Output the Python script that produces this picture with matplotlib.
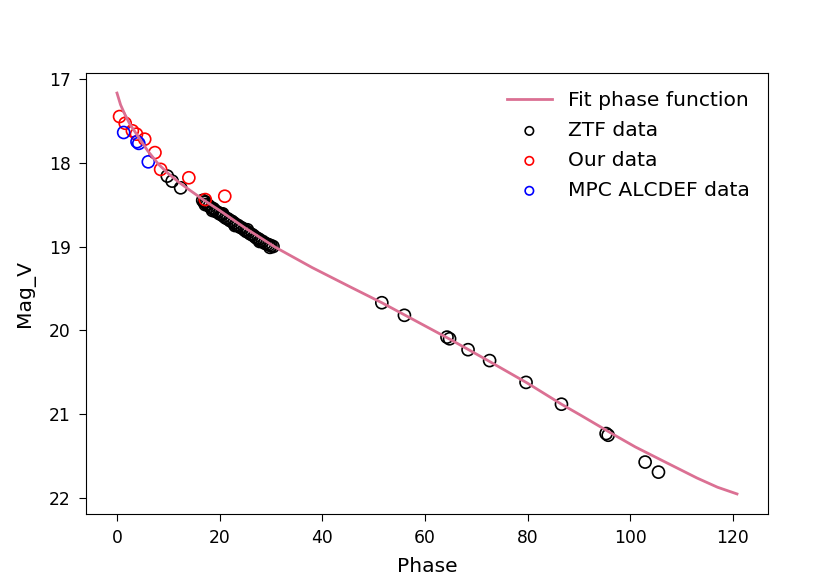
import numpy as np
import matplotlib
matplotlib.use('Agg')
import matplotlib.pyplot as plt

plt.rcParams['font.family'] = ['DejaVu Sans']
plt.rcParams['font.size'] = 14.6

# fitted phase curve
fit_phase = [0, 0.3, 0.7, 1.5, 2.5, 4.25, 6, 8.1, 10, 12, 14, 17, 20, 25, 30.9,
             38, 45.4, 51.6, 58, 65, 72, 80, 86.6, 90.3, 96.7, 101, 106.5, 113, 117, 120.8]
fit_mag = [17.17, 17.23, 17.31, 17.42, 17.54, 17.70, 17.86, 18.02, 18.13, 18.23, 18.32,
           18.45, 18.57, 18.78, 19.01, 19.25, 19.48, 19.67, 19.88, 20.11, 20.35, 20.63,
           20.88, 21.01, 21.24, 21.39, 21.56, 21.76, 21.87, 21.95]

# ZTF
ztf_phase = [9.8, 10.75, 12.4,
             16.7, 17.0, 17.3, 17.6, 18.0, 18.4, 18.8, 19.2, 19.6, 20.0, 20.4, 20.8,
             21.2, 21.6, 22.0, 22.4, 22.8, 23.2, 23.6, 24.0, 24.4, 24.8, 25.2, 25.6,
             26.0, 26.4, 26.8, 27.2, 27.6, 28.0, 28.4, 28.8, 29.2, 29.6, 30.0, 30.4,
             17.2, 18.6, 20.6, 23.0, 25.4, 27.8, 29.8,
             51.6, 56.0, 64.3, 64.8, 68.4, 72.6, 79.7, 86.6, 95.3, 95.7, 102.9, 105.5]
ztf_mag = [18.16, 18.22, 18.30,
           18.45, 18.47, 18.47, 18.50, 18.52, 18.54, 18.55, 18.58, 18.59, 18.61, 18.62, 18.64,
           18.66, 18.67, 18.69, 18.70, 18.72, 18.74, 18.75, 18.77, 18.78, 18.80, 18.82, 18.83,
           18.85, 18.86, 18.88, 18.90, 18.91, 18.93, 18.94, 18.96, 18.97, 18.98, 18.99, 19.00,
           18.50, 18.57, 18.61, 18.75, 18.80, 18.94, 19.01,
           19.67, 19.82, 20.08, 20.10, 20.23, 20.36, 20.62, 20.88, 21.23, 21.25, 21.57, 21.69]

# our observations
our_phase = [0.5, 1.6, 3.0, 3.8, 5.4, 7.4, 8.5, 14.0, 17.2, 21.0]
our_mag = [17.45, 17.53, 17.62, 17.66, 17.72, 17.88, 18.08, 18.18, 18.44, 18.40]

# MPC ALCDEF
mpc_phase = [1.3, 3.9, 4.25, 6.1]
mpc_mag = [17.64, 17.75, 17.77, 17.99]

fig = plt.figure(figsize=(8.3, 5.87), dpi=100)
ax = fig.add_axes([0.1036, 0.1244, 0.8217, 0.7512])

ax.plot(fit_phase, fit_mag, color='palevioletred', lw=2, label='Fit phase function')
ax.scatter(ztf_phase, ztf_mag, s=75, facecolors='none', edgecolors='k', linewidths=1.2,
           label='ZTF data')
ax.scatter(our_phase, our_mag, s=75, facecolors='none', edgecolors='r', linewidths=1.2,
           label='Our data')
ax.scatter(mpc_phase, mpc_mag, s=75, facecolors='none', edgecolors='b', linewidths=1.2,
           label='MPC ALCDEF data')

ax.invert_yaxis()
ax.set_xticks(np.arange(0, 121, 20))
ax.set_yticks(np.arange(17, 23, 1))
ax.tick_params(length=5, pad=6, labelsize=12.3)
ax.set_xlabel('Phase', labelpad=7)
ax.set_ylabel('Mag_V', labelpad=10)
ax.legend(loc='upper right', frameon=False, markerscale=0.7, handlelength=2.2,
          labelspacing=0.54)

plt.savefig('out.png')
